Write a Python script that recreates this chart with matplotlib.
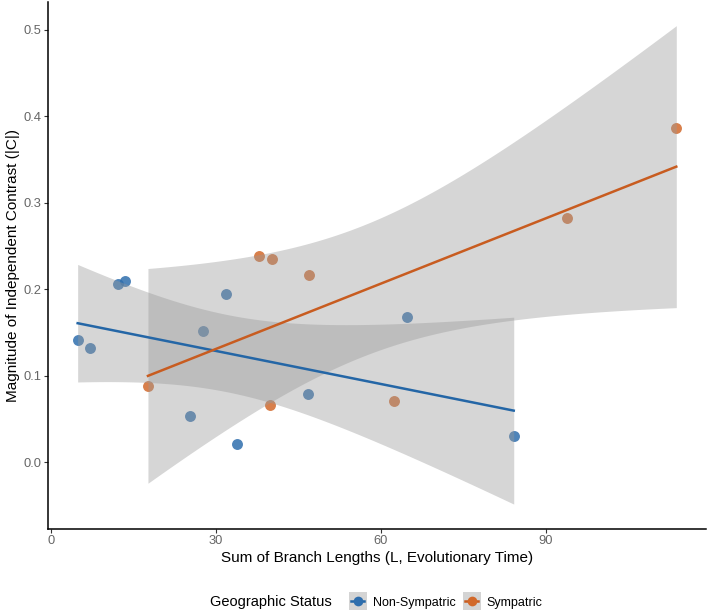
import numpy as np
import matplotlib
matplotlib.use("Agg")
import matplotlib.pyplot as plt
from matplotlib.lines import Line2D
from matplotlib.legend_handler import HandlerTuple

plt.rcParams['font.family'] = ['Liberation Sans', 'DejaVu Sans']

# Data
non_x = [4.8, 7.0, 12.1, 13.5, 25.2, 27.7, 31.9, 33.9, 46.8, 64.7, 84.2]
non_y = [0.141, 0.132, 0.206, 0.210, 0.054, 0.152, 0.195, 0.021, 0.079, 0.168, 0.030]
sym_x = [17.6, 37.9, 39.9, 40.2, 47.0, 62.4, 93.9, 113.8]
sym_y = [0.088, 0.238, 0.066, 0.235, 0.217, 0.071, 0.282, 0.386]

# 95% t quantiles for df = n - 2
t_quant = {11: 2.262, 8: 2.447}

groups = [
    ("Non-Sympatric", non_x, non_y, "#2F6EAD", "#2466A6"),
    ("Sympatric", sym_x, sym_y, "#D2692B", "#C85C20"),
]

fig = plt.figure(figsize=(7.09, 6.13), dpi=100)
ax = fig.add_axes([0.0677, 0.137, 0.928, 0.860])

handles = []
for name, xs, ys, pcol, lcol in groups:
    x = np.array(xs)
    y = np.array(ys)
    n = len(x)
    # points first, ribbon drawn over them like ggplot
    ax.scatter(x, y, s=62, color=pcol, alpha=0.85, linewidths=0, zorder=2)
    b, a = np.polyfit(x, y, 1)
    xg = np.linspace(x.min(), x.max(), 200)
    yhat = a + b * xg
    resid = y - (a + b * x)
    s = np.sqrt(np.sum(resid ** 2) / (n - 2))
    se = s * np.sqrt(1.0 / n + (xg - x.mean()) ** 2 / np.sum((x - x.mean()) ** 2))
    t = t_quant[n]
    ax.fill_between(xg, yhat - t * se, yhat + t * se, color="#999999",
                    alpha=0.4, linewidth=0, zorder=3)
    ax.plot(xg, yhat, color=lcol, lw=1.8, zorder=4)
    # legend key: grey square, line and point on top
    box = Line2D([], [], linestyle="none", marker="s", markersize=13,
                 markerfacecolor="#D4D4D4", markeredgewidth=0)
    key = Line2D([], [], color=lcol, lw=1.8, marker="o", markersize=7,
                 markerfacecolor=pcol, markeredgewidth=0)
    handles.append((box, key))

ax.set_xlim(-0.6, 119.2)
ax.set_ylim(-0.077, 0.532)
ax.set_xticks([0, 30, 60, 90])
ax.set_yticks([0.0, 0.1, 0.2, 0.3, 0.4, 0.5])
ax.set_yticklabels(["0.0", "0.1", "0.2", "0.3", "0.4", "0.5"])

for side in ["top", "right"]:
    ax.spines[side].set_visible(False)
for side in ["left", "bottom"]:
    ax.spines[side].set_color("black")
    ax.spines[side].set_linewidth(1.1)
ax.tick_params(axis="both", colors="#333333", labelcolor="#666666",
               labelsize=9.3, length=3, width=0.8, pad=1.5)

ax.set_xlabel("Sum of Branch Lengths (L, Evolutionary Time)", fontsize=11,
              color="black", labelpad=3)
ax.set_ylabel("Magnitude of Independent Contrast (|C|)", fontsize=11,
              color="black", labelpad=2.5)

# legend at bottom with title on the left, like ggplot
fig.text(210 / 709, 1 - 602 / 613, "Geographic Status", fontsize=10.5,
         ha="left", va="center")
fig.legend(handles, ["Non-Sympatric", "Sympatric"], ncol=2,
           handler_map={tuple: HandlerTuple(ndivide=1, pad=0)},
           loc="center left", bbox_to_anchor=(345 / 709, 1 - 602 / 613),
           frameon=False, fontsize=9, handlelength=1.0, handleheight=1.2,
           handletextpad=0.7, columnspacing=0.8, borderpad=0)

fig.savefig("out.png", dpi=100)
